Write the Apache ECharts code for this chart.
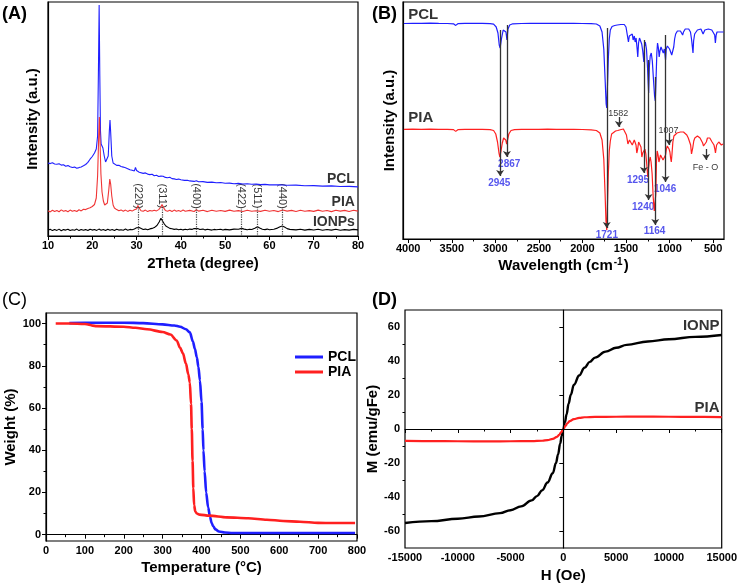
<!DOCTYPE html>
<html><head><meta charset="utf-8">
<script src="https://cdn.jsdelivr.net/npm/echarts@6/dist/echarts.min.js"></script>
<style>html,body{margin:0;padding:0;background:#fff}#c{width:740px;height:588px}</style>
</head><body><div id="c"></div>
<script>
// ---------- (A) XRD ----------
const xrdPCL = [[10,73],[10.5,72.4],[11,73.2],[11.5,72],[12,71.8],[12.5,72.3],[13,70.9],[13.5,71.2],[14,69.8],[14.5,70.4],[15,69.2],[15.5,68.5],[16,68.9],[16.5,67.8],[17,68.4],[17.5,69.1],[18,70.2],[18.5,71.5],[19,73.6],[19.5,76.8],[20,79.5],[20.5,83],[20.9,87],[21.2,100],[21.4,170],[21.55,231],[21.7,160],[21.85,105],[22.0,92],[22.2,94],[22.4,88],[22.7,80],[23.0,74],[23.3,73.5],[23.6,80],[23.85,105],[24.0,116],[24.15,104],[24.4,80],[24.7,73],[25,71.5],[25.5,70.6],[26,70.8],[26.5,69.5],[27,68.9],[27.5,68.2],[28,67.3],[28.5,66.2],[29,65.8],[29.5,65.1],[29.75,68.5],[30,65.5],[30.3,66.5],[30.6,63.8],[31,64.2],[31.5,62.6],[32,63.1],[32.5,61.9],[33,61.4],[33.5,61.8],[34,60.2],[34.5,60.7],[35,59.5],[35.5,59.9],[36,59.8],[36.5,58.6],[37,58.2],[37.5,58.7],[38,57.4],[38.5,57.1],[39,56.5],[39.5,56.9],[40,56.2],[40.4,57.8],[40.8,55.6],[41.5,55.8],[42,55.1],[43,54.6],[43.5,55.3],[44,54.2],[45,54.4],[46,53.6],[47,53.9],[48,53.2],[49,53.5],[50,52.7],[51,52.9],[52,52.3],[53,52.6],[54,52.0],[55,52.2],[56,51.7],[57,51.9],[58,51.4],[59,51.6],[60,51.1],[62,51.3],[64,50.7],[66,50.9],[68,50.3],[70,50.4],[72,49.9],[74,50.1],[76,49.5],[78,49.6],[80,49.1]];
const xrdPIA = [[10,25.2],[10.5,24.1],[11,25.8],[11.5,24.6],[12,25.5],[12.5,24.3],[13,26.1],[13.5,24.8],[14,25.4],[14.5,24.2],[15,25.9],[15.5,24.7],[16,25.6],[16.5,24.5],[17,26.2],[17.5,25.1],[18,26.8],[18.5,26.4],[19,27.6],[19.5,28.3],[20,29.5],[20.5,31.5],[20.9,38],[21.2,60],[21.45,100],[21.6,119],[21.75,95],[21.95,62],[22.2,44],[22.5,35],[22.8,31],[23.1,30],[23.4,33],[23.7,45],[23.95,57],[24.15,52],[24.4,40],[24.7,31],[25,28],[25.5,26.4],[26,25.2],[26.5,26.1],[27,24.8],[27.5,25.9],[28,24.6],[28.5,25.8],[29,24.9],[29.5,26.2],[30,27.1],[30.3,30.5],[30.6,28],[31,25.3],[31.5,24.7],[32,25.9],[32.5,24.4],[33,25.6],[33.5,24.9],[34,25.8],[34.5,25.1],[35,26.4],[35.4,28.5],[35.75,31.5],[36.1,28.2],[36.5,25.6],[37,24.8],[37.5,25.7],[38,24.5],[38.5,25.9],[39,24.7],[39.5,25.4],[40,24.6],[40.5,26.0],[41,24.8],[42,25.6],[43,24.5],[43.5,26.2],[44,24.9],[45,25.7],[46,24.4],[47,25.8],[48,24.7],[49,25.5],[50,24.6],[51,25.9],[52,24.8],[53,25.4],[54,24.5],[55,25.8],[56,24.7],[57,25.3],[57.4,26.4],[58,24.6],[59,25.7],[60,24.8],[61,25.5],[62,24.4],[63,26.0],[64,24.9],[65,25.6],[66,24.5],[67,25.8],[68,24.7],[69,25.4],[70,24.6],[71,25.9],[72,24.8],[73,25.5],[74,24.4],[75,25.7],[76,24.9],[77,25.6],[78,24.5],[79,25.8],[80,24.9]];
const xrdIONP = [[10,5.8],[10.5,6.7],[11,5.4],[11.5,6.5],[12,5.6],[12.5,6.9],[13,5.3],[13.5,6.4],[14,5.9],[14.5,6.8],[15,5.5],[15.5,6.3],[16,5.7],[16.5,6.9],[17,5.4],[17.5,6.6],[18,5.8],[18.5,6.4],[19,5.5],[19.5,6.8],[20,5.9],[20.5,6.5],[21,5.6],[21.5,6.9],[22,5.7],[22.5,6.4],[23,5.5],[23.5,6.7],[24,5.8],[24.5,6.5],[25,5.6],[25.5,6.8],[26,5.9],[26.5,6.3],[27,5.7],[27.5,6.9],[28,5.8],[28.5,6.6],[29,6.2],[29.5,7.1],[30,8.2],[30.3,9.3],[30.6,8.4],[31,7.2],[31.5,6.5],[32,6.9],[32.5,6.2],[33,7.1],[33.5,7.6],[34,8.4],[34.6,10.5],[35.1,14],[35.5,17.8],[35.8,16.5],[36.2,12.5],[36.6,10],[37,8.8],[37.5,7.6],[38,7.2],[38.5,6.6],[39,7.0],[39.5,6.3],[40,6.8],[40.5,6.1],[41,6.7],[41.5,6.2],[42,6.9],[42.5,6.6],[43,7.5],[43.4,8.2],[43.8,7.4],[44.3,6.5],[45,6.9],[45.5,6.1],[46,6.7],[47,5.9],[47.5,6.6],[48,6.2],[49,6.8],[49.5,6.0],[50,6.6],[51,6.1],[52,6.9],[53,6.8],[53.7,7.6],[54.3,6.9],[55,6.3],[55.5,6.8],[56,6.5],[56.7,7.8],[57.3,9.3],[57.8,8.0],[58.4,6.8],[59,6.4],[59.5,6.9],[60,6.2],[61,6.8],[61.8,7.9],[62.4,9.2],[62.9,10.1],[63.4,9.0],[64,7.4],[64.6,6.6],[65,6.9],[66,6.1],[67,6.7],[68,5.9],[69,6.6],[70,6.0],[71,6.8],[72,5.8],[73,6.5],[74,5.9],[75,6.7],[76,5.7],[77,6.4],[78,5.9],[79,6.6],[80,6.1]];
const hklNames = ['(220)','(311)','(400)','(422)','(511)','(440)'];
const hklPos = [30.3, 35.7, 43.4, 53.7, 57.3, 62.9];
const hklLabelY = 40, hklLineTop = 29;
const xrdNames = ['PCL','PIA','IONPs'];
const xrdNamePos = [[79.3,57],[79.3,34],[79.3,14]];

// ---------- (B) FTIR ----------
const ftirPCL = [[4050,215.5],[3950,215.7],[3850,215.6],[3750,215.8],[3650,215.6],[3550,215.5],[3480,215.2],[3455,213.6],[3430,215.3],[3350,215.6],[3250,215.7],[3150,215.6],[3060,215.4],[3020,214.8],[2990,212],[2970,206],[2955,194],[2945,191],[2930,200],[2910,209],[2890,211],[2878,207],[2867,199],[2855,210],[2835,214],[2800,215.2],[2700,215.5],[2600,215.7],[2500,215.6],[2400,215.7],[2300,215.6],[2200,215.7],[2100,215.6],[2000,215.5],[1900,215.3],[1840,215],[1800,213],[1775,207],[1755,190],[1740,160],[1728,135],[1721,131],[1714,150],[1703,180],[1692,200],[1680,209],[1660,212.5],[1630,213.5],[1600,214],[1560,214.5],[1520,214.5],[1500,212],[1485,204],[1472,197],[1462,203],[1452,204],[1440,201],[1428,205],[1418,199],[1405,203],[1395,197],[1384,201],[1372,190],[1365,182],[1356,196],[1345,201],[1335,199],[1320,195],[1308,188],[1295,177],[1288,193],[1278,197],[1265,190],[1252,170],[1240,146],[1232,172],[1222,183],[1210,186],[1198,178],[1185,160],[1172,143],[1164,138],[1155,160],[1146,186],[1138,196],[1128,191],[1119,182],[1110,188],[1098,192],[1085,189],[1072,186],[1060,190],[1052,184],[1046,179],[1038,190],[1025,193],[1013,194],[1000,190],[990,188],[975,184],[962,182],[952,192],[942,200],[930,205],[910,208],[890,209],[875,208],[860,206],[850,204],[840,207],[820,210],[800,211],[780,210],[760,207],[748,200],[738,192],[731,186],[724,198],[712,205],[700,207],[680,209],[660,211],[640,210],[625,208],[615,205],[608,207],[595,209],[575,211],[555,210],[535,209.5],[515,209],[495,207],[482,204],[474,196],[470,195],[465,204],[455,207],[440,207],[420,207],[400,206.5],[380,207]];
const ftirPIA = [[4050,109.7],[3950,109.9],[3850,109.6],[3750,109.8],[3650,109.6],[3550,109.7],[3480,109.4],[3455,107.6],[3430,109.3],[3350,109.6],[3250,109.7],[3150,109.6],[3060,109.4],[3020,108.5],[2995,105],[2975,97],[2958,86],[2948,82],[2935,88],[2920,96],[2905,101],[2893,102],[2880,99],[2870,95],[2860,99],[2845,105],[2820,108.5],[2780,109.4],[2700,109.6],[2600,109.7],[2500,109.6],[2400,109.8],[2300,109.6],[2200,109.7],[2100,109.6],[2000,109.5],[1900,109.2],[1840,108.5],[1800,106],[1775,99],[1755,80],[1740,45],[1730,18],[1721,9],[1714,30],[1703,65],[1692,88],[1680,98],[1665,105],[1645,107],[1620,108],[1595,108.5],[1575,109.5],[1555,109.5],[1530,110],[1510,109],[1495,104],[1478,95],[1470,93],[1460,99],[1450,100],[1440,97],[1428,94],[1416,96],[1405,99],[1395,98],[1385,94],[1376,86],[1366,90],[1355,97],[1340,99],[1328,92],[1318,82],[1308,86],[1296,88],[1283,90],[1272,85],[1262,75],[1250,62],[1242,70],[1232,78],[1222,82],[1212,77],[1200,65],[1188,42],[1175,28],[1166,26],[1158,45],[1150,78],[1142,88],[1132,84],[1122,77],[1114,80],[1104,84],[1095,86],[1085,83],[1075,79],[1066,77],[1056,81],[1046,84],[1036,90],[1026,93],[1016,92],[1006,90],[996,87],[988,81],[980,77],[972,85],[962,97],[950,103],[935,105],[915,106],[895,106.5],[875,107],[855,106.5],[840,107],[820,106],[802,104],[785,101],[770,99],[758,94],[748,85],[742,84],[734,91],[722,98],[710,101],[695,102],[680,103],[665,102.5],[650,101],[635,99],[620,96],[610,93],[600,92],[590,93],[578,97],[565,101],[552,102],[538,101],[525,99],[512,97],[500,96],[490,94],[480,90],[473,86],[468,88],[460,94],[448,96],[435,97],[420,95],[405,94],[385,95]];
const arrowWn  = [2945, 2867, 1721, 1295, 1240, 1164, 1046, 1582, 1007, 580];
const arrowTop = [209, 214, 211, 199, 179, 162, 204, 122, 106, 90];
const arrowEnd = [63, 82, 11, 66, 39, 14, 57, 112, 94, 79];
const peakNames = ['2945','2867','1721','1295','1240','1164','1046'];
const peakPos = [[2955,56],[2841,75],[1720,4],[1362,59],[1303,32],[1173,8],[1051,50]];
const noteNames = ['1582','1007','Fe - O'];
const notePos = [[1590,125],[1013,108],[586,71]];
const ftirNames = ['PCL','PIA'];
const ftirNamePos = [[4000,224],[4000,121]];
const ftirTicks = [500,1000,1500,2000,2500,3000,3500,4000];
const ftirMinor = [750,1250,1750,2250,2750,3250,3750];

// ---------- (C) TGA ----------
const tgaPCL = [[60,100.2],[100,100.3],[150,100.4],[200,100.4],[250,100.2],[300,99.6],[330,99.1],[345,98.5],[360,97.3],[370,95.8],[378,91.5],[383,88],[388,84],[392,79.5],[396,73],[400,63],[403,50],[405,40],[408,30],[412,20],[417,13],[422,8.5],[426,5.5],[430,4],[436,2.5],[445,1.5],[460,1],[480,0.8],[550,0.8],[650,0.8],[795,0.8]];
const tgaPIA = [[25,100],[60,100],[100,99.8],[110,99.5],[120,99],[130,98.8],[200,98.5],[230,98],[260,97.3],[300,96],[320,94.8],[336,92],[345,88.5],[352,86],[360,81],[366,76],[370,72],[373,62],[375,50],[377,35],[379,22],[381,14],[384,11],[388,10],[395,9.5],[420,9],[465,8.2],[520,7.8],[568,7.1],[610,6.5],[653,6.1],[700,5.6],[739,5.5],[795,5.5]];
const tgaYTicks = [0,20,40,60,80,100];
const tgaYMinor = [10,30,50,70,90];

// ---------- (D) VSM ----------
const vsmIONP = [[-15000,-55.3],[-12500,-54.2],[-10000,-52.8],[-8000,-51.5],[-6000,-49.5],[-5000,-47.8],[-4000,-45.5],[-3000,-42],[-2500,-39.5],[-2000,-36],[-1500,-31.5],[-1000,-26],[-700,-20],[-500,-15],[-300,-8.5],[-150,-4],[0,0],[150,4],[300,8.5],[500,15],[700,20],[1000,26],[1500,31.5],[2000,36],[2500,39.5],[3000,42],[4000,45.5],[5000,47.8],[6000,49.5],[8000,51.5],[10000,52.8],[12500,54.2],[15000,55.3]];
const vsmPIA = [[-15000,-7],[-12500,-7.1],[-10000,-7.2],[-7000,-7.3],[-5000,-7.2],[-3000,-7.1],[-2000,-6.9],[-1500,-6.5],[-1000,-5.8],[-600,-4.6],[-400,-3.5],[-200,-1.8],[0,0],[200,1.8],[400,3.5],[600,4.6],[1000,5.8],[1500,6.5],[2000,6.9],[3000,7.1],[5000,7.2],[7000,7.3],[10000,7.2],[12500,7.1],[15000,7.0]];
const vsmYTicks = [-60,-40,-20,0,20,40,60];
const vsmYMinor = [-50,-30,-10,10,30,50];
const vsmNames = ['IONP','PIA'];
const vsmNamePos = [[14800,60.5],[14800,12.2]];

// ---------- build ----------
const F = '"Liberation Sans", Arial, sans-serif';
const BLUE = '#1f1fff', RED = '#ff2020';
const plain = v => String(v);
const lab = {fontSize:11, fontWeight:'bold', color:'#000', fontFamily:F, formatter:plain};
const nts = {fontSize:15, fontWeight:'bold', color:'#000', fontFamily:F};
const aline = {show:true, lineStyle:{color:'#000', width:1.2}};
const tick = (len) => ({show:true, length:len, lineStyle:{color:'#000', width:1}});

const labelSeries = (name, xi, yi, names, pos, style) => ({
  name, type:'scatter', xAxisIndex:xi, yAxisIndex:yi, symbolSize:0, silent:true,
  data: names.map((n,i)=>({name:n, value:pos[i]})),
  label:Object.assign({show:true, position:'inside', formatter:'{b}', fontFamily:F, fontWeight:'bold', color:'#000'}, style)
});

const option = {
  animation:false,
  backgroundColor:'#fff',
  textStyle:{fontFamily:F},
  grid:[
    {left:48, top:2, width:310, height:234, show:true, borderColor:'#000', borderWidth:1.2},
    {left:403, top:2, width:321, height:237, show:true, borderColor:'#000', borderWidth:1.2},
    {left:46, top:313, width:311, height:228, show:true, borderColor:'#000', borderWidth:1.2},
    {left:405, top:310, width:318, height:238, show:true, borderColor:'#000', borderWidth:1.2}
  ],
  legend:{
    data:[{name:'PCL', icon:'rect'},{name:'PIA', icon:'rect'}],
    orient:'vertical', left:290, top:345, itemWidth:28, itemHeight:3, itemGap:1,
    textStyle:{fontSize:14, fontWeight:'bold', color:'#000', fontFamily:F}
  },
  graphic:[
    {type:'text', left:2, top:5, style:{text:'(A)', font:'bold 18px "Liberation Sans"', fill:'#000'}},
    {type:'text', left:372, top:5, style:{text:'(B)', font:'bold 18px "Liberation Sans"', fill:'#000'}},
    {type:'text', left:2, top:291, style:{text:'(C)', font:'18px "Liberation Sans"', fill:'#000'}},
    {type:'text', left:372, top:291, style:{text:'(D)', font:'bold 18px "Liberation Sans"', fill:'#000'}}
  ],
  xAxis:[
    {gridIndex:0, type:'value', min:10, max:80, interval:10, name:'2Theta (degree)', nameLocation:'middle', nameGap:20, nameTextStyle:nts,
     axisLine:aline, axisTick:tick(4), minorTick:{show:true, splitNumber:2, length:2.5, lineStyle:{color:'#000'}}, axisLabel:Object.assign({margin:4}, lab), splitLine:{show:false}},
    {gridIndex:1, type:'value', min:375, max:4060, inverse:true, name:'Wavelength (cm{s|-1})', nameLocation:'middle', nameGap:18,
     nameTextStyle:Object.assign({rich:{s:{fontSize:10, fontWeight:'bold', fontFamily:F, verticalAlign:'top', padding:[0,1,8,1]}}}, nts),
     axisLine:aline, axisTick:Object.assign({customValues:ftirTicks}, tick(4)), axisLabel:Object.assign({margin:4, customValues:ftirTicks}, lab), splitLine:{show:false}},
    {gridIndex:1, type:'value', min:375, max:4060, inverse:true, position:'bottom', offset:0,
     axisLine:{show:false}, axisTick:Object.assign({customValues:ftirMinor}, tick(2.5)), axisLabel:{show:false}, splitLine:{show:false}},
    {gridIndex:2, type:'value', min:0, max:800, interval:100, name:'Temperature (°C)', nameLocation:'middle', nameGap:19, nameTextStyle:nts,
     axisLine:aline, axisTick:tick(4), minorTick:{show:true, splitNumber:2, length:2.5, lineStyle:{color:'#000'}}, axisLabel:Object.assign({margin:4}, lab), splitLine:{show:false}},
    {gridIndex:3, type:'value', min:-15000, max:15000, interval:5000, name:'H (Oe)', nameLocation:'middle', nameGap:20, nameTextStyle:nts,
     axisLine:aline, axisTick:tick(4), minorTick:{show:true, splitNumber:2, length:2.5, lineStyle:{color:'#000'}}, axisLabel:Object.assign({margin:4}, lab), splitLine:{show:false}}
  ],
  yAxis:[
    {gridIndex:0, type:'value', min:0, max:234, name:'Intensity (a.u.)', nameLocation:'middle', nameGap:8, nameTextStyle:nts,
     axisLine:aline, axisTick:{show:false}, axisLabel:{show:false}, splitLine:{show:false}},
    {gridIndex:1, type:'value', min:0, max:237, name:'Intensity (a.u.)', nameLocation:'middle', nameGap:6, nameTextStyle:nts,
     axisLine:aline, axisTick:{show:false}, axisLabel:{show:false}, splitLine:{show:false}},
    {gridIndex:2, type:'value', min:-3, max:105, name:'Weight (%)', nameLocation:'middle', nameGap:23, nameTextStyle:nts,
     axisLine:aline, axisTick:Object.assign({customValues:tgaYTicks}, tick(4)), axisLabel:Object.assign({margin:5, customValues:tgaYTicks}, lab), splitLine:{show:false}},
    {gridIndex:2, type:'value', min:-3, max:105, position:'left', offset:0,
     axisLine:{show:false}, axisTick:Object.assign({customValues:tgaYMinor}, tick(2.5)), axisLabel:{show:false}, splitLine:{show:false}},
    {gridIndex:3, type:'value', min:-70, max:70, name:'M (emu/gFe)', nameLocation:'middle', nameGap:25, nameTextStyle:nts,
     axisLine:aline, axisTick:Object.assign({customValues:vsmYTicks}, tick(4)), axisLabel:Object.assign({margin:5, customValues:vsmYTicks}, lab), splitLine:{show:false}},
    {gridIndex:3, type:'value', min:-70, max:70, position:'left', offset:0,
     axisLine:{show:false}, axisTick:Object.assign({customValues:vsmYMinor}, tick(2.5)), axisLabel:{show:false}, splitLine:{show:false}}
  ],
  series:[
    // A
    {name:'PCL-XRD', type:'line', xAxisIndex:0, yAxisIndex:0, data:xrdPCL, symbol:'none', lineStyle:{color:BLUE, width:1.1}, itemStyle:{color:BLUE}},
    {name:'PIA-XRD', type:'line', xAxisIndex:0, yAxisIndex:0, data:xrdPIA, symbol:'none', lineStyle:{color:'#f03535', width:1.1}, itemStyle:{color:'#f03535'}},
    {name:'IONPs-XRD', type:'line', xAxisIndex:0, yAxisIndex:0, data:xrdIONP, symbol:'none', lineStyle:{color:'#000', width:1.1}, itemStyle:{color:'#000'},
     markLine:{silent:true, symbol:'none', label:{show:false}, lineStyle:{color:'#444', type:'dotted', width:1.2},
       data: hklPos.map(x=>[{coord:[x, hklLineTop]},{coord:[x, 0]}])}},
    labelSeries('hkl', 0, 0, hklNames, hklPos.map(x=>[x, hklLabelY]), {fontSize:11, fontWeight:'normal', rotate:-90}),
    labelSeries('xrdNames', 0, 0, xrdNames, xrdNamePos, {fontSize:14, align:'right'}),
    // B
    {name:'PCL-FTIR', type:'line', xAxisIndex:1, yAxisIndex:1, data:ftirPCL, symbol:'none', lineStyle:{color:BLUE, width:1.2}, itemStyle:{color:BLUE}},
    {name:'PIA-FTIR', type:'line', xAxisIndex:1, yAxisIndex:1, data:ftirPIA, symbol:'none', lineStyle:{color:RED, width:1.2}, itemStyle:{color:RED},
     markLine:{silent:true, symbol:['none','arrow'], symbolSize:6, label:{show:false}, lineStyle:{color:'#333', type:'solid', width:1.3},
       data: arrowWn.map((w,i)=>[{coord:[w, arrowTop[i]]},{coord:[w, arrowEnd[i]]}])}},
    labelSeries('peaks', 1, 1, peakNames, peakPos, {fontSize:10, color:'#2a2ae8'}),
    labelSeries('notes', 1, 1, noteNames, notePos, {fontSize:9, fontWeight:'normal', color:'#000'}),
    labelSeries('ftirNames', 1, 1, ftirNames, ftirNamePos, {fontSize:15, align:'left'}),
    // C
    {name:'PCL', type:'line', xAxisIndex:3, yAxisIndex:2, data:tgaPCL, symbol:'none', smooth:0.3, smoothMonotone:'x', lineStyle:{color:BLUE, width:2.6}, itemStyle:{color:BLUE}},
    {name:'PIA', type:'line', xAxisIndex:3, yAxisIndex:2, data:tgaPIA, symbol:'none', smooth:0.3, smoothMonotone:'x', lineStyle:{color:RED, width:2.6}, itemStyle:{color:RED}},
    // D
    {name:'IONP-VSM', type:'line', xAxisIndex:4, yAxisIndex:4, data:vsmIONP, symbol:'none', smooth:0.4, smoothMonotone:'x', lineStyle:{color:'#000', width:2.4}, itemStyle:{color:'#000'},
     markLine:{silent:true, symbol:'none', label:{show:false}, lineStyle:{color:'#000', type:'solid', width:1}, data:[{xAxis:0},{yAxis:0}]}},
    {name:'PIA-VSM', type:'line', xAxisIndex:4, yAxisIndex:4, data:vsmPIA, symbol:'none', smooth:0.4, smoothMonotone:'x', lineStyle:{color:RED, width:2.2}, itemStyle:{color:RED}},
    labelSeries('vsmNames', 4, 4, vsmNames, vsmNamePos, {fontSize:15, align:'right'})
  ]
};
const chart = echarts.init(document.getElementById('c'), null, {renderer:'canvas'});
chart.setOption(option);
</script></body></html>
